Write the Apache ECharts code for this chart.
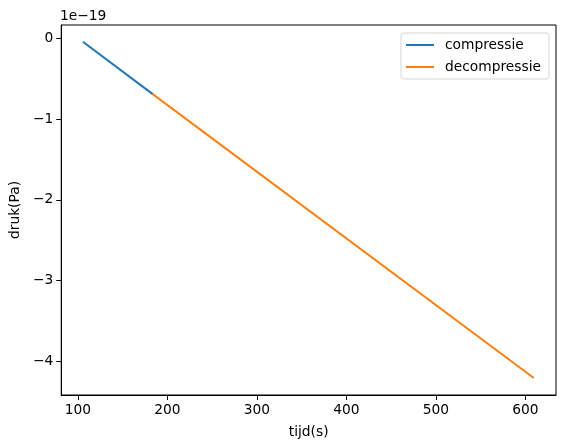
<!DOCTYPE html>
<html>
<head>
<meta charset="utf-8">
<script src="https://cdn.jsdelivr.net/npm/echarts@6/dist/echarts.min.js"></script>
<style>
html,body{margin:0;padding:0;background:#fff;}
#c{width:565px;height:448px;}
</style>
</head>
<body>
<div id="c"></div>
<script>
// values in units of 1e-19 Pa
const compressieTijd = [105.6, 183.6];
const compressieDruk = [-0.04, -0.69];
const decompressieTijd = [183.6, 609.4];
const decompressieDruk = [-0.69, -4.21];
const xTicks = [100, 200, 300, 400, 500, 600];
const yTicks = [0, -1, -2, -3, -4];
const seriesNames = ['compressie', 'decompressie'];

const FONT = 'DejaVu Sans';
const chart = echarts.init(document.getElementById('c'), null, {renderer: 'canvas'});
const fmt = v => (v < 0 ? '\u2212' + Math.abs(v) : String(v));
chart.setOption({
  animation: false,
  backgroundColor: '#fff',
  textStyle: {fontFamily: FONT},
  grid: {left: 60, top: 25, width: 496, height: 370, show: true, borderColor: '#000', borderWidth: 1, backgroundColor: 'transparent'},
  legend: {
    orient: 'vertical', right: 16, top: 33,
    data: seriesNames,
    icon: 'rect', itemWidth: 28, itemHeight: 2, itemGap: 8,
    backgroundColor: '#fff', borderColor: '#d6d6d6', borderWidth: 1, borderRadius: 3,
    padding: [5, 8, 5, 5],
    textStyle: {fontFamily: FONT, fontSize: 13.8, color: '#000', padding: [0, 0, 0, 6]}
  },
  graphic: [{type: 'text', left: 60, top: 9, style: {text: '1e\u221219', font: '13.8px DejaVu Sans', fill: '#000'}}],
  xAxis: {
    type: 'value', min: 81.4, max: 634.2,
    name: 'tijd(s)', nameLocation: 'middle', nameGap: 30,
    nameTextStyle: {fontFamily: FONT, fontSize: 13.8, color: '#000'},
    splitLine: {show: false},
    axisLine: {show: true, onZero: false, lineStyle: {color: '#000'}},
    axisTick: {show: true, length: 5, customValues: xTicks, lineStyle: {color: '#000'}},
    axisLabel: {customValues: xTicks, fontFamily: FONT, fontSize: 13.8, color: '#000', margin: 8}
  },
  yAxis: {
    type: 'value', min: -4.42, max: 0.167,
    name: 'druk(Pa)', nameLocation: 'middle', nameGap: 38, nameRotate: 90,
    nameTextStyle: {fontFamily: FONT, fontSize: 13.8, color: '#000'},
    splitLine: {show: false},
    axisLine: {show: true, onZero: false, lineStyle: {color: '#000'}},
    axisTick: {show: true, length: 5, customValues: yTicks, lineStyle: {color: '#000'}},
    axisLabel: {customValues: yTicks, formatter: fmt, fontFamily: FONT, fontSize: 13.8, color: '#000', margin: 8}
  },
  series: [
    {name: seriesNames[0], type: 'line', showSymbol: false, color: '#1f77b4', lineStyle: {width: 2}, data: compressieTijd.map((t, i) => [t, compressieDruk[i]])},
    {name: seriesNames[1], type: 'line', showSymbol: false, color: '#ff7f0e', lineStyle: {width: 2}, data: decompressieTijd.map((t, i) => [t, decompressieDruk[i]])}
  ]
});
</script>
</body>
</html>
